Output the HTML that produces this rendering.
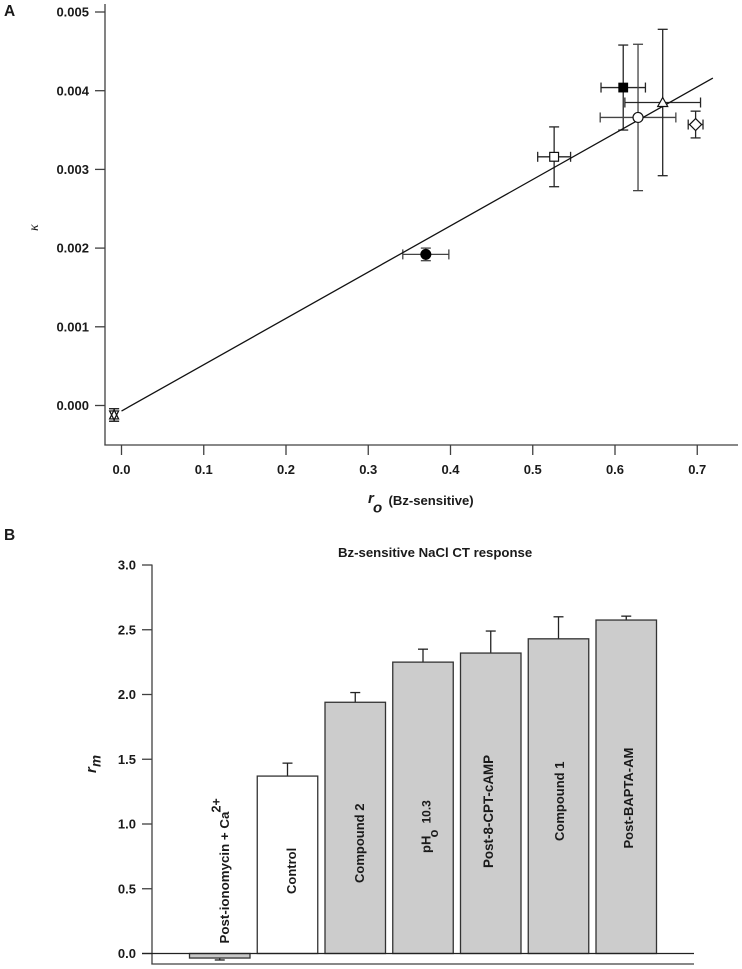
<!DOCTYPE html>
<html lang="en">
<head>
<meta charset="utf-8">
<title>Bz-sensitive NaCl CT response</title>
<style>
html,body{margin:0;padding:0;background:#fff;}
#figure{display:block;width:742px;height:969px;}
text{font-family:"Liberation Sans",Arial,sans-serif;font-weight:bold;fill:#1a1a1a;}
</style>
</head>
<body>
<svg id="figure" xmlns="http://www.w3.org/2000/svg" width="742" height="969" viewBox="0 0 742 969">
  <rect x="0" y="0" width="742" height="969" fill="#fff"/>
  <g id="panelA"></g>
  <g id="panelB"></g>

  <text x="4" y="16" font-size="15.5">A</text>
  <text x="4" y="540" font-size="15.5">B</text>

  <text transform="translate(38,231) rotate(-90)" style="font-family:'Liberation Serif',serif;font-style:italic;font-weight:normal" font-size="14">κ</text>

  <g>
    <text x="368" y="503" font-size="15" font-style="italic">r</text>
    <text x="373" y="512.5" font-size="15" font-style="italic">o</text>
    <text x="388.5" y="505" font-size="13.1">(Bz-sensitive)</text>
  </g>

  <text x="338" y="557" font-size="13.2">Bz-sensitive NaCl CT response</text>

  <g>
    <text transform="translate(96,773) rotate(-90)" font-size="15" font-style="italic">r</text>
    <text transform="translate(100.5,767) rotate(-90)" font-size="13.5" font-style="italic">m</text>
  </g>

  <g>
    <text transform="translate(229,943.5) rotate(-90)" font-size="13.3">Post-ionomycin + Ca</text>
    <text transform="translate(220.5,812.5) rotate(-90)" font-size="12.5">2+</text>
  </g>
  <text transform="translate(296,894) rotate(-90)" font-size="13">Control</text>
  <text transform="translate(364,883) rotate(-90)" font-size="13">Compound 2</text>
  <g>
    <text transform="translate(430.5,853) rotate(-90)" font-size="13">pH</text>
    <text transform="translate(438,837.5) rotate(-90)" font-size="13">o</text>
    <text transform="translate(430.5,823.5) rotate(-90)" font-size="12">10.3</text>
  </g>
  <text transform="translate(493,868) rotate(-90)" font-size="13.4">Post-8-CPT-cAMP</text>
  <text transform="translate(564,841) rotate(-90)" font-size="13">Compound 1</text>
  <text transform="translate(633,848.5) rotate(-90)" font-size="13">Post-BAPTA-AM</text>
</svg>
<script>
// Panel A data
const pointNames = ['filled-circle', 'open-square', 'filled-square', 'open-circle', 'open-triangle', 'open-diamond', 'inverted-triangle', 'upright-triangle'];
const roValues = [0.370, 0.526, 0.610, 0.628, 0.658, 0.698, -0.009, -0.009];
const kappaValues = [0.00192, 0.00316, 0.00404, 0.00366, 0.00385, 0.00357, -0.00012, -0.00012];
const roErrors = [0.028, 0.020, 0.027, 0.046, 0.046, 0.009, 0, 0];
const kappaErrors = [0.00008, 0.00038, 0.00054, 0.00093, 0.00093, 0.00017, 0.00008, 0.00008];
const fitRo = [0.000, 0.719];
const fitKappa = [-0.00007, 0.00416];
const xTicksA = [0.0, 0.1, 0.2, 0.3, 0.4, 0.5, 0.6, 0.7];
const yTicksA = [0.000, 0.001, 0.002, 0.003, 0.004, 0.005];

// Panel B data
const barNames = ['post-ionomycin', 'control', 'compound-2', 'ph-10-3', 'post-8-cpt-camp', 'compound-1', 'post-bapta-am'];
const barValues = [-0.035, 1.37, 1.94, 2.25, 2.32, 2.43, 2.575];
const barErrors = [-0.015, 0.10, 0.075, 0.10, 0.17, 0.17, 0.03];
const barFills = ['#c8c8c8', '#ffffff', '#cccccc', '#cccccc', '#cccccc', '#cccccc', '#cccccc'];
const yTicksB = [0.0, 0.5, 1.0, 1.5, 2.0, 2.5, 3.0];

const AXIS = '#404040';
const NS = 'http://www.w3.org/2000/svg';
const panelA = document.getElementById('panelA');
const panelB = document.getElementById('panelB');

function xA(v) { return 121.5 + v * 822.5; }
function yA(v) { return 405.5 - v * 78700; }
function xB(i) { return 189.5 + i * 67.75; }
function yB(v) { return 953.5 - v * 129.5; }

function make(tag, props, parent) {
  const el = document.createElementNS(NS, tag);
  for (const k in props) el.setAttribute(k, props[k]);
  parent.appendChild(el);
  return el;
}
function seg(parent, x1, y1, x2, y2, color, w) {
  return make('line', {x1: x1, y1: y1, x2: x2, y2: y2, stroke: color, 'stroke-width': w}, parent);
}

// Panel A axes
const yAxisA = seg(panelA, 105, 4, 105, 445.5, AXIS, 1.3);


const xAxisA = seg(panelA, 104.4, 445, 738, 445, AXIS, 1.3);



yTicksA.forEach(function (t) {
  const mark = seg(panelA, 95, yA(t), 105, yA(t), AXIS, 1.3);
  
  
  const lab = make('text', {x: 89, y: yA(t) + 4.6, 'text-anchor': 'end', 'font-size': 13}, panelA);
  lab.textContent = t.toFixed(3);
  
  
});
xTicksA.forEach(function (t) {
  const mark = seg(panelA, xA(t), 445, xA(t), 455, AXIS, 1.3);
  
  
  const lab = make('text', {x: xA(t), y: 474, 'text-anchor': 'middle', 'font-size': 13}, panelA);
  lab.textContent = t.toFixed(1);
  
  
});

// Panel A error bars
pointNames.forEach(function (name, i) {
  const g = make('g', {}, panelA);
  
  
  const cx = xA(roValues[i]), cy = yA(kappaValues[i]);
  const c = i === 3 || i === 0 ? '#444' : '#262626';
  if (roErrors[i] > 0) {
    const l = xA(roValues[i] - roErrors[i]), r = xA(roValues[i] + roErrors[i]);
    seg(g, l, cy, r, cy, c, 1.3);
    seg(g, l, cy - 5, l, cy + 5, c, 1.3);
    seg(g, r, cy - 5, r, cy + 5, c, 1.3);
  }
  const t = yA(kappaValues[i] + kappaErrors[i]), b = yA(kappaValues[i] - kappaErrors[i]);
  seg(g, cx, t, cx, b, c, 1.3);
  seg(g, cx - 5, t, cx + 5, t, c, 1.3);
  seg(g, cx - 5, b, cx + 5, b, c, 1.3);
});

// Panel A fit line
const fitLine = seg(panelA, xA(fitRo[0]), yA(fitKappa[0]), xA(fitRo[1]), yA(fitKappa[1]), '#111', 1.3);



// Panel A markers
function drawMarker(name, cx, cy) {
  const open = {fill: '#fff', stroke: '#111', 'stroke-width': 1.2};
  const solid = {fill: '#000', stroke: '#000', 'stroke-width': 1};
  if (name === 'filled-circle') return make('circle', Object.assign({cx: cx, cy: cy, r: 5}, solid), panelA);
  if (name === 'open-circle') return make('circle', Object.assign({cx: cx, cy: cy, r: 5}, open), panelA);
  if (name === 'filled-square') return make('rect', Object.assign({x: cx - 4.4, y: cy - 4.4, width: 8.8, height: 8.8}, solid), panelA);
  if (name === 'open-square') return make('rect', Object.assign({x: cx - 4.4, y: cy - 4.4, width: 8.8, height: 8.8}, open), panelA);
  if (name === 'open-diamond') return make('polygon', Object.assign({points: [cx, cy - 6, cx + 6, cy, cx, cy + 6, cx - 6, cy].join(' ')}, open), panelA);
  if (name === 'open-triangle') return make('polygon', Object.assign({points: [cx, cy - 5, cx + 5, cy + 4, cx - 5, cy + 4].join(' ')}, open), panelA);
  if (name === 'upright-triangle') return make('polygon', Object.assign({points: [cx, cy - 5, cx + 4.5, cy + 4, cx - 4.5, cy + 4].join(' ')}, open, {fill: 'none'}), panelA);
  return make('polygon', Object.assign({points: [cx, cy + 5, cx + 4.5, cy - 4, cx - 4.5, cy - 4].join(' ')}, open), panelA);
}
pointNames.forEach(function (name, i) {
  const m = drawMarker(name, xA(roValues[i]), yA(kappaValues[i]));
  
  
});

// Panel B axes
const yAxisB = seg(panelB, 152, 564.5, 152, 964.5, AXIS, 1.3);


const xAxisB = seg(panelB, 151.4, 964, 694, 964, AXIS, 1.3);



yTicksB.forEach(function (t) {
  const mark = seg(panelB, 142, yB(t), 152, yB(t), AXIS, 1.3);
  
  
  const lab = make('text', {x: 136, y: yB(t) + 4.6, 'text-anchor': 'end', 'font-size': 13}, panelB);
  lab.textContent = t.toFixed(1);
  
  
});

// Panel B bars and error bars
barNames.forEach(function (name, i) {
  const left = xB(i), w = 60.5, mid = left + w / 2;
  const y0 = yB(0), yv = yB(barValues[i]);
  const errEnd = yB(barValues[i] + barErrors[i]);
  const eb = make('g', {}, panelB);
  
  
  seg(eb, mid, yv, mid, errEnd, '#222', 1.3);
  seg(eb, mid - 5, errEnd, mid + 5, errEnd, '#222', 1.3);
  const bar = make('rect', {
    x: left, y: Math.min(y0, yv), width: w, height: Math.abs(y0 - yv),
    fill: barFills[i], stroke: '#333', 'stroke-width': 1.3
  }, panelB);
  
  
});

const zeroLine = seg(panelB, 142, yB(0), 694, yB(0), '#222', 1.3);


</script>
</body>
</html>
